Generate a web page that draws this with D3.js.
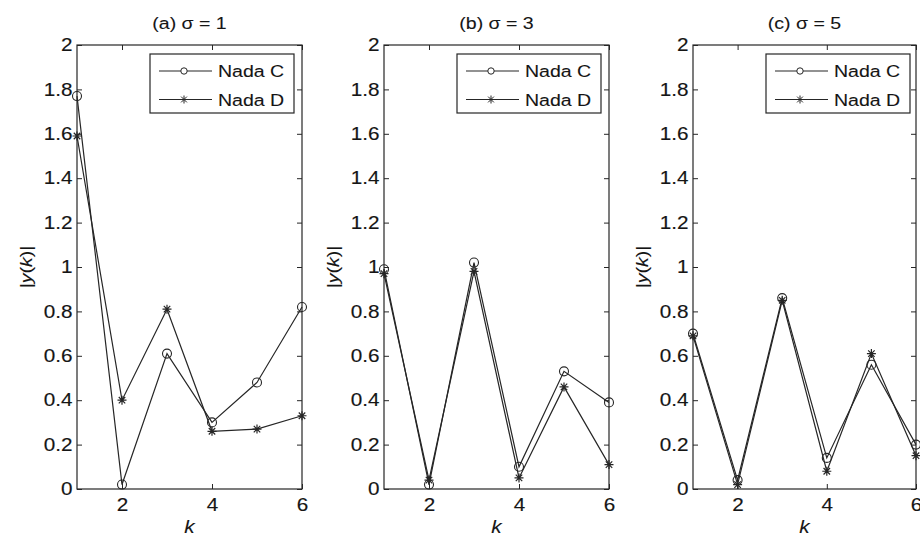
<!DOCTYPE html>
<html>
<head>
<meta charset="utf-8">
<script src="https://cdn.jsdelivr.net/npm/d3@7.9.0/dist/d3.min.js"></script>
<style>
  body { margin: 0; background: #fff; }
  svg { display: block; font-family: "Liberation Sans", Arial, sans-serif; }
</style>
</head>
<body>
<div id="viz"></div>
<script>
// data
const ks = [1, 2, 3, 4, 5, 6];
const panelTitles = ["(a) \u03c3 = 1", "(b) \u03c3 = 3", "(c) \u03c3 = 5"];
const seriesNames = ["Nada C", "Nada D"];
const yTicks = [0, 0.2, 0.4, 0.6, 0.8, 1, 1.2, 1.4, 1.6, 1.8, 2];
const xTicks = [2, 4, 6];

const nadaC = [
  [1.77, 0.02, 0.61, 0.30, 0.48, 0.82],
  [0.99, 0.02, 1.02, 0.10, 0.53, 0.39],
  [0.70, 0.04, 0.86, 0.14, 0.56, 0.20]
];
const nadaD = [
  [1.59, 0.40, 0.81, 0.26, 0.27, 0.33],
  [0.97, 0.04, 0.98, 0.05, 0.46, 0.11],
  [0.69, 0.02, 0.85, 0.08, 0.61, 0.15]
];

const width = 920, height = 536;
const ink = "#262626";
const txt = "#151515";
const stretch = 1.15; // the figure's text is a bit wider than plain Arial
const plotTop = 45, plotBottom = 489;
const lefts = [77, 384, 693];
const widths = [225, 225, 223];

const svg = d3.select("#viz").append("svg")
  .attr("width", width)
  .attr("height", height);

// asterisk marker path (MATLAB style '*')
function starPath(r) {
  const d = r * 0.72;
  return `M${-r},0L${r},0M0,${-r}L0,${r}M${-d},${-d}L${d},${d}M${-d},${d}L${d},${-d}`;
}

function drawMarker(g, type, x, y) {
  if (type === 0) {
    g.append("circle")
      .attr("cx", x).attr("cy", y).attr("r", 4.5)
      .attr("fill", "none").attr("stroke", ink).attr("stroke-width", 1.1);
  } else {
    g.append("path")
      .attr("transform", `translate(${x},${y})`)
      .attr("d", starPath(4.5))
      .attr("fill", "none").attr("stroke", ink).attr("stroke-width", 1.2);
  }
}

// text placed at (x,y) and widened a little
function label(g, x, y, size, rot) {
  return g.append("text")
    .attr("transform", `translate(${x},${y})${rot ? " rotate(" + rot + ")" : ""} scale(${stretch},1)`)
    .attr("font-size", size + "px")
    .attr("fill", txt)
    .attr("stroke", txt).attr("stroke-width", 0.1);
}

function drawPanel(i) {
  const left = lefts[i], w = widths[i];
  const x = d3.scaleLinear().domain([1, 6]).range([left, left + w]);
  const y = d3.scaleLinear().domain([0, 2]).range([plotBottom, plotTop]);
  const g = svg.append("g");

  // box
  g.append("rect")
    .attr("x", left).attr("y", plotTop)
    .attr("width", w).attr("height", plotBottom - plotTop)
    .attr("fill", "none").attr("stroke", ink).attr("stroke-width", 1.2);

  // axes with inward ticks
  const fmt = d3.format("");
  const ax = [
    g.append("g").attr("transform", `translate(${left},0)`)
      .call(d3.axisLeft(y).tickValues(yTicks).tickFormat(fmt).tickSize(-5).tickPadding(4)),
    g.append("g").attr("transform", `translate(${left + w},0)`)
      .call(d3.axisRight(y).tickValues(yTicks).tickFormat("").tickSize(-5)),
    g.append("g").attr("transform", `translate(0,${plotBottom})`)
      .call(d3.axisBottom(x).tickValues(xTicks).tickFormat(fmt).tickSize(-5).tickPadding(9)),
    g.append("g").attr("transform", `translate(0,${plotTop})`)
      .call(d3.axisTop(x).tickValues(xTicks).tickFormat("").tickSize(-5))
  ];
  ax.forEach(a => {
    a.select(".domain").remove();
    a.selectAll("line").attr("stroke", ink);
    a.selectAll("text")
      .attr("fill", txt)
      .attr("stroke", txt).attr("stroke-width", 0.15)
      .attr("font-size", "18px")
      .attr("transform", `scale(${stretch},1)`)
      .attr("font-family", "'Liberation Sans', Arial, sans-serif");
  });

  // title
  label(g, left + w / 2, 29, 17)
    .attr("text-anchor", "middle")
    .text(panelTitles[i]);

  // y label
  const yl = label(g, left - 45, 267, 17, -90)
    .attr("text-anchor", "middle");
  yl.append("tspan").text("|");
  yl.append("tspan").attr("font-style", "italic").text("y");
  yl.append("tspan").text("(");
  yl.append("tspan").attr("font-style", "italic").text("k");
  yl.append("tspan").text(")|");

  // x label
  label(g, left + w / 2, 533, 18)
    .attr("text-anchor", "middle")
    .attr("font-style", "italic")
    .text("k");

  // series
  const line = d3.line().x((d, j) => x(ks[j])).y(d => y(d));
  [nadaC[i], nadaD[i]].forEach((vals, s) => {
    g.append("path")
      .datum(vals)
      .attr("d", line)
      .attr("fill", "none").attr("stroke", ink).attr("stroke-width", 1.2);
    vals.forEach((v, j) => drawMarker(g, s, x(ks[j]), y(v)));
  });

  // legend
  const lx = left + 73, ly = 54, lw = 144, lh = 59;
  g.append("rect")
    .attr("x", lx).attr("y", ly).attr("width", lw).attr("height", lh)
    .attr("fill", "#fff").attr("stroke", ink).attr("stroke-width", 1.2);
  seriesNames.forEach((name, s) => {
    const ry = ly + 17 + s * 28.5;
    g.append("line")
      .attr("x1", lx + 9).attr("x2", lx + 62)
      .attr("y1", ry).attr("y2", ry)
      .attr("stroke", ink).attr("stroke-width", 1.2);
    if (s === 0) {
      g.append("circle").attr("cx", lx + 34).attr("cy", ry).attr("r", 3.2)
        .attr("fill", "#fff").attr("stroke", ink);
    } else {
      g.append("path").attr("transform", `translate(${lx + 34},${ry})`)
        .attr("d", starPath(4)).attr("stroke", ink).attr("fill", "none");
    }
    label(g, lx + 68, ry, 17)
      .attr("dy", "0.36em")
      .text(name);
  });
}

[0, 1, 2].forEach(drawPanel);
</script>
</body>
</html>
